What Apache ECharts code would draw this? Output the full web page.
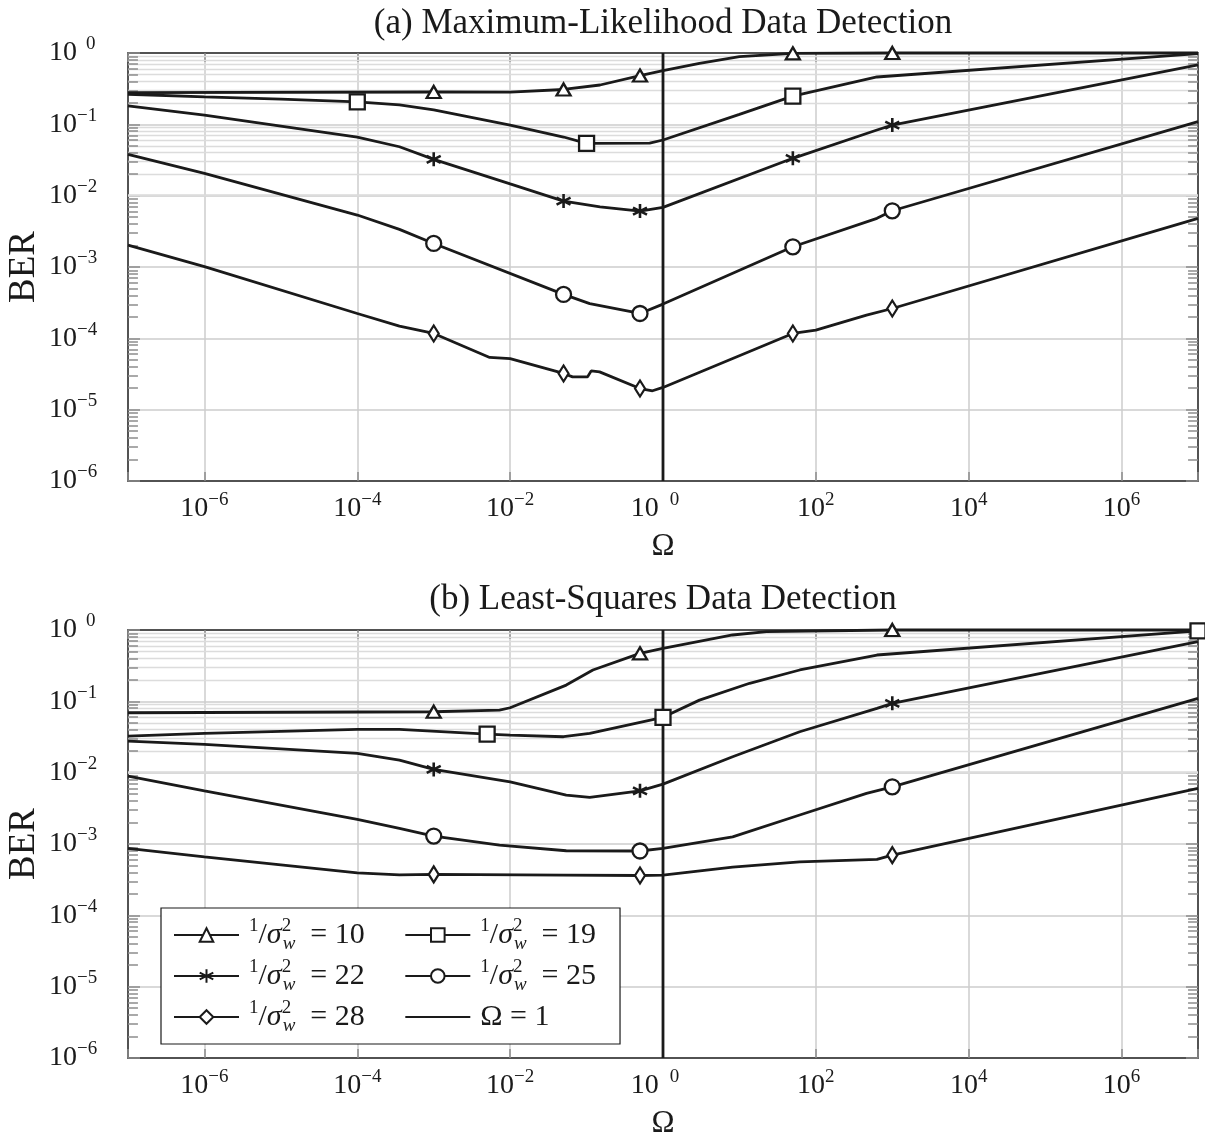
<!DOCTYPE html>
<html><head><meta charset="utf-8">
<script src="https://cdn.jsdelivr.net/npm/echarts@6/dist/echarts.min.js"></script>
<style>html,body{margin:0;padding:0;background:#fff}#c{width:1205px;height:1133px}</style>
</head><body><div id="c"></div>
<script>
// ---------------- data (Ω values on x, BER on y) ----------------
// (a) Maximum-Likelihood Data Detection
const omA10 = [1e-7, 1e-3, 1e-2, 0.05, 0.15, 0.5, 1, 3, 10, 50, 1000, 1e7];
const berA10 = [0.279, 0.284, 0.283, 0.308, 0.356, 0.483, 0.565, 0.717, 0.887, 0.99, 1.0, 1.0];
const mkA10 = [1e-3, 0.05, 0.5, 50, 1000];

const omA19 = [1e-7, 1e-6, 1e-5, 1e-4, 3.56e-4, 1e-3, 1e-2, 0.05, 0.1, 0.67, 1, 10, 50, 630, 1e7];
const berA19 = [0.264, 0.243, 0.225, 0.207, 0.187, 0.159, 0.0977, 0.0664, 0.0542, 0.0546, 0.0603, 0.138, 0.249, 0.461, 0.98];
const mkA19 = [1e-4, 0.1, 50];

const omA22 = [1e-7, 1e-6, 1e-4, 3.56e-4, 1e-3, 1e-2, 0.05, 0.15, 0.5, 1, 50, 630, 1000, 1e7];
const berA22 = [0.181, 0.135, 0.0661, 0.0485, 0.0323, 0.0146, 0.0084, 0.00698, 0.00608, 0.00685, 0.0334, 0.0832, 0.0977, 0.679];
const mkA22 = [1e-3, 0.05, 0.5, 50, 1000];

const omA25 = [1e-7, 1e-6, 1e-4, 3.56e-4, 1e-3, 0.05, 0.11, 0.5, 1, 50, 630, 1000, 1e7];
const berA25 = [0.038, 0.0206, 0.00535, 0.00337, 0.00214, 0.000413, 0.000307, 0.000223, 0.000302, 0.00192, 0.00481, 0.00614, 0.109];
const mkA25 = [1e-3, 0.05, 0.5, 50, 1000];

const omA28 = [1e-7, 1e-6, 1e-4, 3.56e-4, 1e-3, 5.4e-3, 1e-2, 0.05, 0.0656, 0.103, 0.115, 0.148, 0.5, 0.73, 1, 50, 100, 460, 1000, 1e7];
const berA28 = [0.00203, 0.00101, 0.000223, 0.000148, 0.000117, 5.4e-5, 5.2e-5, 3.22e-5, 2.88e-5, 2.88e-5, 3.5e-5, 3.39e-5, 1.98e-5, 1.84e-5, 2.05e-5, 1.17e-4, 1.30e-4, 2.11e-4, 2.62e-4, 0.00481];
const mkA28 = [1e-3, 0.05, 0.5, 50, 1000];

// (b) Least-Squares Data Detection
const omB10 = [1e-7, 1e-3, 7.26e-3, 1e-2, 0.0542, 0.121, 0.5, 1, 8.15, 22.5, 1000, 1e7];
const berB10 = [0.0692, 0.0715, 0.0755, 0.0813, 0.169, 0.275, 0.471, 0.553, 0.851, 0.947, 1.0, 1.0];
const mkB10 = [1e-3, 0.5, 1000];

const omB19 = [1e-7, 1e-6, 1e-4, 3.56e-4, 5e-3, 1e-2, 0.05, 0.11, 1, 3, 13.6, 61.5, 630, 1e7];
const berB19 = [0.0326, 0.0355, 0.0404, 0.0404, 0.0347, 0.0337, 0.0319, 0.0355, 0.0597, 0.104, 0.179, 0.275, 0.446, 0.97];
const mkB19 = [5e-3, 1, 1e7];

const omB22 = [1e-7, 1e-6, 1e-4, 3.56e-4, 1e-3, 1e-2, 0.0542, 0.11, 0.5, 1, 8.15, 61.5, 630, 1000, 1e7];
const berB22 = [0.0277, 0.0249, 0.0187, 0.015, 0.0111, 0.00745, 0.00485, 0.00451, 0.00557, 0.00692, 0.0167, 0.0375, 0.0798, 0.0938, 0.685];
const mkB22 = [1e-3, 0.5, 1000];

const omB25 = [1e-7, 1e-6, 1e-4, 3.56e-4, 1e-3, 7.26e-3, 0.0542, 0.5, 1, 8.15, 61.5, 460, 1000, 1e7];
const berB25 = [0.00896, 0.00557, 0.00221, 0.00166, 0.00129, 0.000966, 0.000804, 0.000798, 0.000867, 0.00126, 0.00255, 0.00512, 0.00634, 0.110];
const mkB25 = [1e-3, 0.5, 1000];

const omB28 = [1e-7, 1e-6, 1e-4, 3.56e-4, 1e-3, 0.05, 0.5, 1, 8.15, 61.5, 630, 1000, 1e7];
const berB28 = [0.000867, 0.000662, 0.000395, 0.000370, 0.000375, 0.000366, 0.000362, 0.000366, 0.000474, 0.000562, 0.000608, 0.000698, 0.00603];
const mkB28 = [1e-3, 0.5, 1000];

// vertical reference line Ω = 1
const omRef = [1, 1];
const berRef = [1e-6, 1];

// axis ranges / grid values
const omMin = 1e-7, omMax = 1e7;
const berMin = 1e-6, berMax = 1;
const berMinorGrid = [];
for (let k = -6; k <= -1; k++) for (let m = 2; m <= 9; m++) berMinorGrid.push(+(m * Math.pow(10, k)).toPrecision(3));
const tickLenDec = 0.13; // minor tick length, in decades of Ω

const titles = ['(a) Maximum-Likelihood Data Detection', '(b) Least-Squares Data Detection'];
const legendNames = ['s10', 's19', 's22', 's25', 's28', 'om1'];
const legendValues = {s10: '10', s19: '19', s22: '22', s25: '25', s28: '28'};

// ---------------- styling ----------------
const FONT = '"Liberation Serif","Times New Roman",serif';
const INK = '#1a1a1a';
const GRID_MAJOR = '#cdcdcd';
const GRID_MINOR = '#dcdcdc';
const TICK = '#8c8c8c';

const supRich = {
  b: {fontSize: 28, lineHeight: 36, fontFamily: FONT, color: INK},
  s: {fontSize: 19, lineHeight: 14, verticalAlign: 'top', fontFamily: FONT, color: INK},
  z: {fontSize: 19, lineHeight: 14, verticalAlign: 'top', fontFamily: FONT, color: INK, padding: [0, 0, 0, 9]},
  zx: {fontSize: 19, lineHeight: 14, verticalAlign: 'top', fontFamily: FONT, color: INK, padding: [0, 16, 0, 11]}
};
const expOf = v => Math.round(Math.log10(v));
function yLabel(v) {
  const e = expOf(v);
  return e === 0 ? '{b|10}{z|0}' : '{b|10}{s|\u2212' + (-e) + '}';
}
function xLabel(v) {
  const e = expOf(v);
  if (e % 2 !== 0) return '';
  if (e === 0) return '{b|10}{zx|0}';
  return e < 0 ? '{b|10}{s|\u2212' + (-e) + '}' : '{b|10}{s|' + e + '}';
}

const starPath = 'path://M0,-10L0,10M-8.66,-5L8.66,5M-8.66,5L8.66,-5';
const SYM = {
  s10: ['triangle', [14, 12], 2.3],
  s19: ['rect', 15, 2.3],
  s22: [starPath, 14, 2.6],
  s25: ['circle', 15, 2.3],
  s28: ['diamond', [10, 16], 2.3]
};

function curve(name, om, ber, marks, gi) {
  return {
    type: 'line', name: name, xAxisIndex: gi * 2, yAxisIndex: gi * 2,
    symbol: SYM[name][0], symbolSize: SYM[name][1], showSymbol: true, showAllSymbol: true,
    data: om.map((x, i) => marks.indexOf(x) >= 0 ? {value: [x, ber[i]]} : {value: [x, ber[i]], symbol: 'none'}),
    lineStyle: {color: INK, width: 2.8},
    itemStyle: {color: '#fff', borderColor: INK, borderWidth: SYM[name][2]},
    z: 3, clip: false, silent: true, animation: false, emphasis: {disabled: true}
  };
}
function gridMarks() {
  const lines = berMinorGrid.map(v => ({yAxis: v}));
  const tickStyle = {color: TICK, width: 1.5, type: 'solid'};
  berMinorGrid.forEach(v => {
    lines.push([{coord: [omMin, v], lineStyle: tickStyle}, {coord: [omMin * Math.pow(10, tickLenDec), v]}]);
    lines.push([{coord: [omMax / Math.pow(10, tickLenDec), v], lineStyle: tickStyle}, {coord: [omMax, v]}]);
  });
  return lines;
}
function refLine(gi) {
  return {
    type: 'line', name: 'om1', xAxisIndex: gi * 2, yAxisIndex: gi * 2,
    symbol: 'none', data: omRef.map((x, i) => [x, berRef[i]]),
    lineStyle: {color: INK, width: 2.8}, itemStyle: {color: INK, opacity: 0},
    z: 3, clip: false, silent: true, animation: false, emphasis: {disabled: true},
    markLine: {
      silent: true, z: 1, symbol: ['none', 'none'], animation: false,
      label: {show: false}, emphasis: {disabled: true},
      lineStyle: {color: GRID_MINOR, width: 1.3, type: 'solid'},
      data: gridMarks()
    }
  };
}

function xAxes(gi) {
  const common = {
    type: 'log', logBase: 100, min: omMin, max: omMax, splitNumber: 7, gridIndex: gi,
    axisLine: {show: true, lineStyle: {color: INK, width: 1.5}},
    axisTick: {show: true, inside: true, length: 9, lineStyle: {color: TICK, width: 1.5}}
  };
  return [
    Object.assign({}, common, {
      position: 'bottom',
      axisLabel: {formatter: xLabel, rich: supRich, margin: 10, showMinLabel: true, showMaxLabel: true},
      splitLine: {show: true, showMinLine: false, showMaxLine: false, lineStyle: {color: GRID_MAJOR, width: 1.5}},
      name: '\u03A9', nameLocation: 'middle', nameGap: 50, nameMoveOverlap: false,
      nameTextStyle: {fontFamily: FONT, fontSize: 31, color: INK}
    }),
    Object.assign({}, common, {position: 'top', axisLabel: {show: false}, splitLine: {show: false}})
  ];
}
function yAxes(gi) {
  const common = {
    type: 'log', logBase: 10, min: berMin, max: berMax, interval: 1, gridIndex: gi,
    axisLine: {show: true, lineStyle: {color: INK, width: 1.5}},
    axisTick: {show: true, inside: true, length: 12, lineStyle: {color: TICK, width: 1.5}}
  };
  return [
    Object.assign({}, common, {
      position: 'left',
      axisLabel: {formatter: yLabel, rich: supRich, margin: 79, align: 'left'},
      splitLine: {show: true, showMinLine: false, showMaxLine: false, lineStyle: {color: GRID_MAJOR, width: 1.5}},
      name: 'BER', nameLocation: 'middle', nameGap: 85, nameRotate: 90, nameMoveOverlap: false,
      nameTextStyle: {fontFamily: FONT, fontSize: 37, color: INK}
    }),
    Object.assign({}, common, {position: 'right', axisLabel: {show: false}, splitLine: {show: false}})
  ];
}

const legendRich = {
  n: {fontSize: 19, lineHeight: 21, verticalAlign: 'top', padding: [0, 0, 0, 5], fontFamily: FONT, color: INK},
  sl: {fontSize: 30, lineHeight: 36, fontFamily: FONT, color: INK},
  sg: {fontSize: 30, lineHeight: 36, fontStyle: 'italic', fontFamily: FONT, color: INK},
  p: {fontSize: 19, lineHeight: 17, verticalAlign: 'top', width: 1, fontFamily: FONT, color: INK},
  w: {fontSize: 19, lineHeight: 20, verticalAlign: 'bottom', fontStyle: 'italic', fontFamily: FONT, color: INK},
  e1: {fontSize: 30, lineHeight: 36, width: 104, fontFamily: FONT, color: INK},
  e2: {fontSize: 30, lineHeight: 36, fontFamily: FONT, color: INK},
  om: {fontSize: 30, lineHeight: 36, padding: [0, 0, 0, 5], fontFamily: FONT, color: INK}
};
function legendFmt(name) {
  if (name === 'om1') return '{om|\u03A9 = 1}';
  const col = legendNames.indexOf(name) % 2 === 0 ? 'e1' : 'e2';
  return '{n|1}{sl|/}{sg|\u03C3}{p|2}{w|w}{' + col + '|  = ' + legendValues[name] + '}';
}

const option = {
  animation: false,
  backgroundColor: '#fff',
  title: titles.map((t, i) => ({
    text: t, left: 663, textAlign: 'center', top: i === 0 ? 6 : 582, padding: 0,
    textStyle: {fontFamily: FONT, fontSize: 35, fontWeight: 'normal', color: INK}
  })),
  grid: [
    {left: 128, top: 53, width: 1070, height: 428, outerBoundsMode: 'none', containLabel: false},
    {left: 128, top: 630, width: 1070, height: 428, outerBoundsMode: 'none', containLabel: false}
  ],
  xAxis: xAxes(0).concat(xAxes(1)),
  yAxis: yAxes(0).concat(yAxes(1)),
  legend: {
    data: legendNames.map(n => n === 'om1' ? {name: n, itemStyle: {opacity: 0}} : n),
    left: 161, top: 908, orient: 'horizontal', width: 450,
    padding: [9, 24, 9, 12], itemGap: 5, itemWidth: 65, itemHeight: 17,
    backgroundColor: '#fff', borderColor: INK, borderWidth: 1.2, borderRadius: 0,
    selectedMode: false, formatter: legendFmt,
    textStyle: {fontFamily: FONT, fontSize: 30, color: INK, rich: legendRich}
  },
  series: [
    refLine(0),
    curve('s10', omA10, berA10, mkA10, 0),
    curve('s19', omA19, berA19, mkA19, 0),
    curve('s22', omA22, berA22, mkA22, 0),
    curve('s25', omA25, berA25, mkA25, 0),
    curve('s28', omA28, berA28, mkA28, 0),
    refLine(1),
    curve('s10', omB10, berB10, mkB10, 1),
    curve('s19', omB19, berB19, mkB19, 1),
    curve('s22', omB22, berB22, mkB22, 1),
    curve('s25', omB25, berB25, mkB25, 1),
    curve('s28', omB28, berB28, mkB28, 1)
  ]
};
const chart = echarts.init(document.getElementById('c'), null, {renderer: 'canvas', width: 1205, height: 1133});
chart.setOption(option);
</script>
</body></html>
